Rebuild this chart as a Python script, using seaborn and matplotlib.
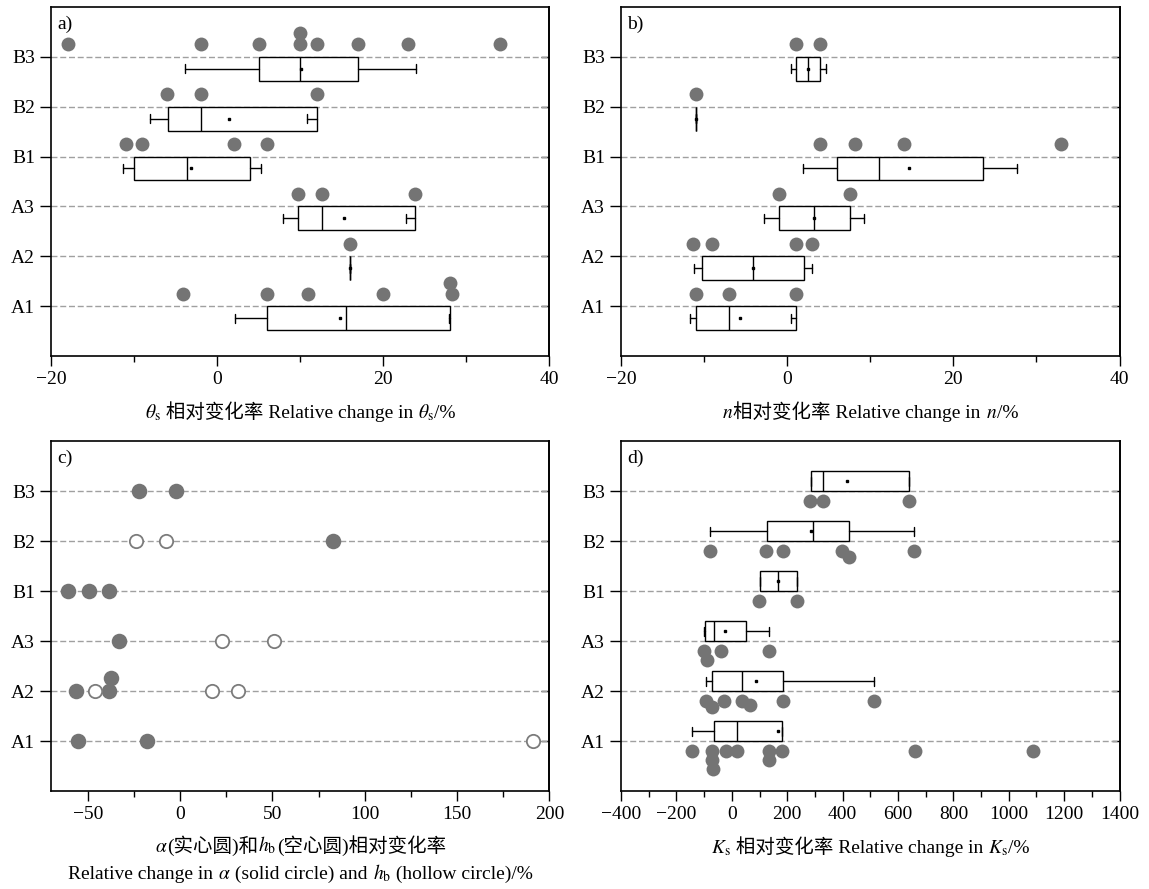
"""
Relative change of hydraulic parameters (theta_s, n, alpha/h_b, Ks) per treatment
"""

import numpy as np
import matplotlib
matplotlib.use("Agg")
import matplotlib.pyplot as plt
import seaborn as sns
from matplotlib.ticker import MultipleLocator
from matplotlib.offsetbox import TextArea, HPacker, VPacker, AnchoredOffsetbox

# ─── DATA ────────────────────────────────────────────────────────────────────
GROUPS = ["A1", "A2", "A3", "B1", "B2", "B3"]

# a) theta_s  (individual values, then box stats: whisker lo, q1, median, q3, whisker hi, mean)
theta_pts = [
    [-4.1, 6.0, 11.0, 20.0, 28.3, 28.0],                    # A1
    [16.0],                                                 # A2
    [9.7, 12.6, 23.8],                                      # A3
    [-11.0, -9.1, 2.0, 6.0],                                # B1
    [-6.0, -2.0, 12.0],                                     # B2
    [-18.0, -2.0, 5.0, 10.0, 10.0, 12.0, 17.0, 23.0, 34.0], # B3
]
theta_lo   = [2.1, 16.0, 7.9, -11.3, -8.1, -3.9]
theta_q1   = [6.0, 16.0, 9.7, -10.0, -5.9, 5.0]
theta_med  = [15.5, 16.0, 12.6, -3.6, -2.0, 10.0]
theta_q3   = [28.0, 16.0, 23.8, 4.0, 12.0, 17.0]
theta_hi   = [27.9, 16.0, 22.8, 5.3, 10.8, 24.0]
theta_mean = [14.8, 16.0, 15.3, -3.1, 1.4, 10.1]

# b) n
n_pts = [
    [-11.0, -7.0, 1.0],
    [-11.3, -9.0, 1.0, 3.0],
    [-1.0, 7.5],
    [4.0, 8.1, 14.0, 33.0],
    [-11.0],
    [1.0, 4.0],
]
n_lo   = [-11.7, -11.2, -2.8, 1.9, -11.0, 0.5]
n_q1   = [-11.0, -10.2, -1.0, 6.0, -11.0, 1.0]
n_med  = [-7.0, -4.1, 3.2, 11.0, -11.0, 2.5]
n_q3   = [1.0, 2.0, 7.5, 23.6, -11.0, 4.0]
n_hi   = [0.5, 3.0, 9.3, 27.6, -11.0, 4.7]
n_mean = [-5.7, -4.1, 3.2, 14.7, -11.0, 2.5]

# c) alpha (solid) and h_b (hollow)
alpha_pts = [
    [-55.4, -18.0],
    [-56.3, -38.4, -37.3],
    [-33.4],
    [-60.9, -49.3, -38.4],
    [83.0],
    [-22.5, -2.3],
]
hb_pts = [
    [191.0],
    [-46.0, 17.3, 31.2],
    [22.9, 51.0],
    [],
    [-23.8, -7.8],
    [],
]

# d) Ks
ks_pts = [
    [-144, -70, -70, -67, -21, 18, 133, 135, 180, 660, 1087],
    [-94, -70, -30, 36, 65, 183, 512],
    [-100, -91, -39, 133],
    [99, 234],
    [-78, 125, 186, 397, 422, 656],
    [283, 328, 638],
]
ks_lo   = [-142, -94, -100, 100, -78, 286]
ks_q1   = [-66, -70, -96, 100, 126, 286]
ks_med  = [18, 37, -64, 168, 292, 328]
ks_q3   = [181, 186, 51, 235, 422, 639]
ks_hi   = [181, 512, 133, 235, 656, 639]
ks_mean = [168, 87, -24, 165, 285, 415]

# ─── STYLE ───────────────────────────────────────────────────────────────────
sns.set_style("ticks")
FAM = ["Liberation Serif", "Noto Sans CJK SC"]
plt.rcParams.update({
    "font.family": FAM,
    "font.size": 14,
    "mathtext.fontset": "stix",
    "axes.linewidth": 1.2,
    "axes.edgecolor": "black",
    "text.color": "black",
    "axes.labelcolor": "black",
    "xtick.color": "black",
    "ytick.color": "black",
    "xtick.direction": "out",
    "ytick.direction": "out",
    "xtick.major.size": 7,
    "xtick.minor.size": 4,
    "xtick.major.width": 1.0,
    "xtick.minor.width": 1.0,
    "ytick.major.size": 8,
    "ytick.major.width": 1.0,
    "xtick.labelsize": 14,
    "ytick.labelsize": 14,
})

PT_GREY = "#747474"
HOLLOW_EDGE = "#7c7c7c"
GRID_GREY = "#a0a0a0"
W_PX, H_PX = 1149, 889

fig = plt.figure(figsize=(W_PX / 100, H_PX / 100), dpi=100)
ax_a = fig.add_axes([0.0444, 0.5996, 0.4337, 0.3926])
ax_b = fig.add_axes([0.5405, 0.5996, 0.4339, 0.3926])
ax_c = fig.add_axes([0.0444, 0.1102, 0.4337, 0.3937])
ax_d = fig.add_axes([0.5405, 0.1102, 0.4339, 0.3937])

pos = np.arange(len(GROUPS))


def swarm(vals, sx, sy, diam, away, one_sided):
    # greedy beeswarm in pixel space -> vertical offsets in data units
    placed, offs = [], []
    for v in vals:
        xp = v * sx
        cands = [0.0]
        for a, b in placed:
            dx = abs(xp - a)
            if dx < diam:
                dy = np.sqrt(diam ** 2 - dx ** 2)
                cands += [b + dy, b - dy]
        if one_sided:
            cands = [c for c in cands if c * away >= -1e-9]
        cands.sort(key=lambda c: (round(abs(c), 6), -c * away))
        for c in cands:
            if all((xp - a) ** 2 + (c - b) ** 2 >= diam ** 2 - 1e-6 for a, b in placed):
                break
        placed.append((xp, c))
        offs.append(c / sy)
    return np.array(offs)


def scales(ax, xlim):
    bb = ax.get_position()
    sx = bb.width * W_PX / (xlim[1] - xlim[0])
    sy = bb.height * H_PX / 7.0
    return sx, sy


def draw_points(ax, pts, xlim, center, diam, away, one_sided, **kw):
    sx, sy = scales(ax, xlim)
    xs, ys = [], []
    for i, vals in enumerate(pts):
        if len(vals) == 0:
            continue
        offs = swarm(vals, sx, sy, diam, away, one_sided)
        xs += list(vals)
        ys += list(i + center + offs)
    sns.scatterplot(x=xs, y=ys, ax=ax, legend=False, zorder=3, **kw)


def draw_boxes(ax, lo, q1, med, q3, hi, mean, offset, width):
    stats = [dict(whislo=a, q1=b, med=c, q3=d, whishi=e, mean=f, fliers=[])
             for a, b, c, d, e, f in zip(lo, q1, med, q3, hi, mean)]
    lp = dict(color="black", linewidth=1.0)
    ax.bxp(stats, positions=pos + offset, widths=width, capwidths=0.18,
           orientation="horizontal", showmeans=True, showfliers=False,
           patch_artist=True, manage_ticks=False,
           boxprops=dict(facecolor="white", edgecolor="black", linewidth=1.0),
           medianprops=lp, whiskerprops=lp, capprops=lp,
           meanprops=dict(marker="s", markersize=1.5, markerfacecolor="black",
                          markeredgecolor="black"))


def finish(ax, xlim, major, minor, tag):
    ax.set_xlim(*xlim)
    ax.set_ylim(-1, 6)
    ax.xaxis.set_major_locator(MultipleLocator(major))
    ax.xaxis.set_minor_locator(MultipleLocator(minor))
    ax.set_yticks(pos)
    ax.set_yticklabels(GROUPS)
    ax.tick_params(axis="x", which="both", top=False, bottom=True)
    ax.tick_params(axis="y", left=True, right=False)
    ax.yaxis.grid(True, linestyle=(0, (4.3, 2.0)), color=GRID_GREY, linewidth=1.0)
    ax.xaxis.grid(False)
    ax.set_axisbelow(True)
    ax.set_xlabel("")
    ax.set_ylabel("")
    for s in ax.spines.values():
        s.set_visible(True)
        s.set_linewidth(1.2)
    sec = ax.secondary_yaxis("right")
    sec.set_ticks(pos)
    sec.tick_params(axis="y", direction="in", length=6, width=1.0, labelright=False)
    sec.spines["right"].set_linewidth(1.2)
    ax.text(0.013, 0.975, tag, transform=ax.transAxes, ha="left", va="top", fontsize=14)


def xlabel_box(ax, lines, y):
    rows = []
    for line in lines:
        parts = [TextArea(t, textprops=dict(fontsize=14, fontfamily=FAM)) for t in line]
        rows.append(HPacker(children=parts, align="baseline", pad=0, sep=0))
    box = VPacker(children=rows, align="center", pad=0, sep=4)
    anch = AnchoredOffsetbox(loc="upper center", child=box, pad=0, borderpad=0,
                             frameon=False, bbox_to_anchor=(0.5, y),
                             bbox_transform=ax.transAxes)
    ax.add_artist(anch)


# ─── a) theta_s ──────────────────────────────────────────────────────────────
XA = (-20, 40)
draw_boxes(ax_a, theta_lo, theta_q1, theta_med, theta_q3, theta_hi, theta_mean, -0.24, 0.48)
draw_points(ax_a, theta_pts, XA, 0.25, 11, 1, True, color=PT_GREY, s=100, linewidth=0)
finish(ax_a, XA, 20, 10, "a)")
xlabel_box(ax_a, [[r"$\theta_\mathrm{s}$", " 相对变化率 Relative change in ",
                   r"$\theta_\mathrm{s}$", "/%"]], -0.13)

# ─── b) n ────────────────────────────────────────────────────────────────────
draw_boxes(ax_b, n_lo, n_q1, n_med, n_q3, n_hi, n_mean, -0.24, 0.48)
draw_points(ax_b, n_pts, XA, 0.25, 11, 1, True, color=PT_GREY, s=100, linewidth=0)
finish(ax_b, XA, 20, 10, "b)")
xlabel_box(ax_b, [[r"$n$", "相对变化率 Relative change in ", r"$n$", "/%"]], -0.13)

# ─── c) alpha / h_b ──────────────────────────────────────────────────────────
XC = (-70, 200)
draw_points(ax_c, alpha_pts, XC, 0.0, 13, 1, False, color=PT_GREY, s=125, linewidth=0)
draw_points(ax_c, hb_pts, XC, 0.0, 13, 1, False, color="white", s=92,
            edgecolor=HOLLOW_EDGE, linewidth=1.3)
finish(ax_c, XC, 50, 25, "c)")
xlabel_box(ax_c, [[r"$\alpha$", "(实心圆)和", r"$h_\mathrm{b}$", "(空心圆)相对变化率"],
                  ["Relative change in ", r"$\alpha$", " (solid circle) and ",
                   r"$h_\mathrm{b}$", " (hollow circle)/%"]], -0.125)

# ─── d) Ks ───────────────────────────────────────────────────────────────────
XD = (-400, 1400)
draw_boxes(ax_d, ks_lo, ks_q1, ks_med, ks_q3, ks_hi, ks_mean, 0.2, 0.4)
draw_points(ax_d, ks_pts, XD, -0.2, 9, -1, True, color=PT_GREY, s=100, linewidth=0)
finish(ax_d, XD, 200, 100, "d)")
xlabel_box(ax_d, [[r"$K_\mathrm{s}$", " 相对变化率 Relative change in ",
                   r"$K_\mathrm{s}$", "/%"]], -0.13)

plt.savefig("out.png", dpi=100)
plt.close()
